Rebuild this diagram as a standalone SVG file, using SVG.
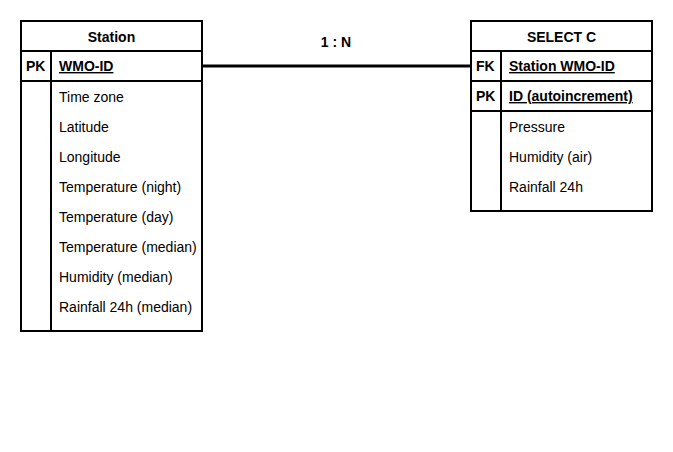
<svg xmlns="http://www.w3.org/2000/svg" width="673" height="452" viewBox="0 0 673 452">
<style>
.box{fill:#fff;stroke:#000;stroke-width:2}
.ln{stroke:#000;stroke-width:2;fill:none}
.hd{font-family:"Liberation Sans",Arial,sans-serif;font-size:14px;font-weight:bold;text-anchor:middle;fill:#000}
.k{font-family:"Liberation Sans",Arial,sans-serif;font-size:14px;font-weight:bold;fill:#000}
.u{font-family:"Liberation Sans",Arial,sans-serif;font-size:14px;font-weight:bold;fill:#000;text-decoration:underline}
.f{font-family:"Liberation Sans",Arial,sans-serif;font-size:14px;fill:#000}
</style>
<rect width="673" height="452" fill="#fff"/>
<g id="connectors">
<line x1="202" y1="66" x2="471" y2="66" stroke="#000" stroke-width="3"/>
<text class="hd" x="336" y="47">1 : N</text>
</g>
<g id="station">
<rect class="box" x="21" y="21" width="181" height="310"/>
<line class="ln" x1="21" y1="51" x2="202" y2="51"/>
<line class="ln" x1="21" y1="81" x2="202" y2="81"/>
<line class="ln" x1="51" y1="51" x2="51" y2="331"/>
<text class="hd" x="111.5" y="42">Station</text>
<text class="k" x="26" y="71">PK</text>
<text class="u" x="59" y="71">WMO-ID</text>
<text class="f" x="59" y="102">Time zone</text>
<text class="f" x="59" y="132">Latitude</text>
<text class="f" x="59" y="162">Longitude</text>
<text class="f" x="59" y="192">Temperature (night)</text>
<text class="f" x="59" y="222">Temperature (day)</text>
<text class="f" x="59" y="252">Temperature (median)</text>
<text class="f" x="59" y="282">Humidity (median)</text>
<text class="f" x="59" y="312">Rainfall 24h (median)</text>
</g>
<g id="selectc">
<rect class="box" x="471" y="21" width="181" height="190"/>
<line class="ln" x1="471" y1="51" x2="652" y2="51"/>
<line class="ln" x1="471" y1="81" x2="652" y2="81"/>
<line class="ln" x1="471" y1="111" x2="652" y2="111"/>
<line class="ln" x1="501" y1="51" x2="501" y2="211"/>
<text class="hd" x="561.5" y="42">SELECT C</text>
<text class="k" x="476" y="71">FK</text>
<text class="u" x="509" y="71">Station WMO-ID</text>
<text class="k" x="476" y="101">PK</text>
<text class="u" x="509" y="101">ID (autoincrement)</text>
<text class="f" x="509" y="132">Pressure</text>
<text class="f" x="509" y="162">Humidity (air)</text>
<text class="f" x="509" y="192">Rainfall 24h</text>
</g>
</svg>
